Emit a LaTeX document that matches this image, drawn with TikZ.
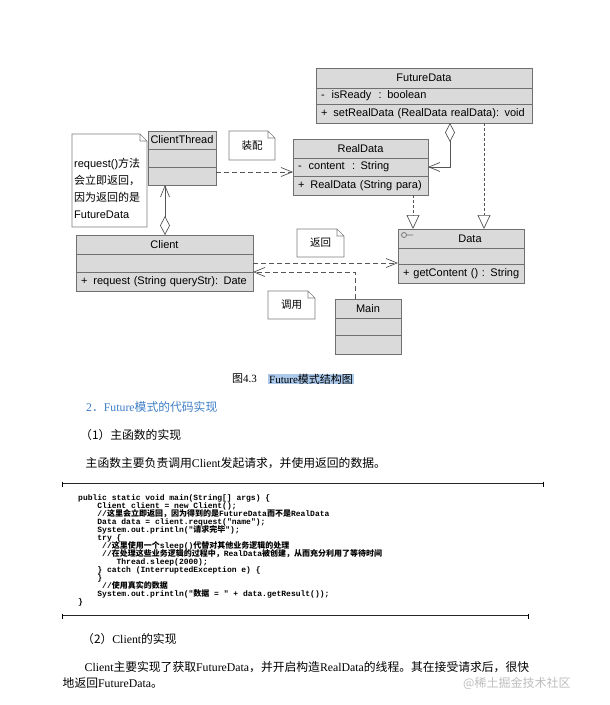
\documentclass[tikz,border=0pt]{standalone}
\usepackage{fontspec}
\setmainfont{Liberation Serif}
\setsansfont{Liberation Sans}
\setmonofont{Liberation Mono}
\newfontfamily\zhfont{Noto Sans CJK SC}
\usetikzlibrary{positioning,arrows.meta}
\definecolor{umlfill}{RGB}{218,218,218}
\definecolor{umlline}{RGB}{112,112,112}
\definecolor{wire}{RGB}{85,85,85}
\definecolor{notegray}{RGB}{125,125,125}
\definecolor{headblue}{RGB}{62,126,198}
\definecolor{hilite}{RGB}{172,202,236}
\definecolor{markgray}{RGB}{190,190,190}
\newcommand{\zh}[1]{{\zhfont #1}}
\newcommand{\umlfont}{\sffamily\fontsize{11}{13}\selectfont}
\newcommand{\bodyfont}{\fontsize{11.8}{14}\selectfont}
\newcommand{\codefont}{\ttfamily\bfseries\fontsize{8}{8}\selectfont\lineskiplimit=-20pt}

\begin{document}
\begin{tikzpicture}[x=1pt, y=-1pt,
    cls/.style={draw=umlline, fill=umlfill, line width=0.8pt, outer sep=0pt, inner xsep=2pt, inner ysep=0pt, font=\umlfont},
    row/.style={cls, inner xsep=5pt, align=left},
    notebox/.style={fill=white, outer sep=0pt, inner sep=0pt, font=\zhfont\fontsize{10.5}{13}\selectfont},
    notetext/.style={inner sep=0pt, align=left, font=\sffamily\fontsize{11}{17}\selectfont},
    depend/.style={draw=wire, line width=0.7pt, dash pattern=on 5pt off 3pt, -{Straight Barb[length=11pt,width=9pt]}},
    realize/.style={draw=wire, line width=0.7pt, dash pattern=on 3pt off 2pt, -{Triangle[open,length=14pt,width=13pt]}},
    aggr/.style={draw=wire, line width=0.7pt, {Diamond[open,length=19pt,width=10pt]}-{Straight Barb[length=11pt,width=9pt]}},
    bodytext/.style={anchor=west, inner sep=0pt, font=\bodyfont},
    codetext/.style={anchor=north west, inner sep=0pt, align=left, font=\codefont},
    codeline/.style={draw=black!85, line width=0.6pt, double, double distance=0.8pt}
]
    \fill[white] (0,0) rectangle (610,705);
    \useasboundingbox (0,0) rectangle (610,705);

    % FutureData
    \node[cls, anchor=north west, minimum width=216pt, minimum height=20pt] (fd) at (316,68) {FutureData};
    \node[row, text width=206pt, minimum height=16pt, below=0pt of fd] (fd-a) {-\hspace{7pt}isReady\ \ : boolean};
    \node[row, text width=206pt, minimum height=19pt, below=0pt of fd-a] (fd-m) {\mbox{+\hspace{6pt}setRealData (RealData realData): void}};

    % RealData
    \node[cls, anchor=north west, minimum width=135pt, minimum height=19pt] (rd) at (293,139) {RealData};
    \node[row, text width=125pt, minimum height=18pt, below=0pt of rd] (rd-a) {-\hspace{7pt}content\ \ : String};
    \node[row, text width=125pt, minimum height=19pt, below=0pt of rd-a] (rd-m) {\mbox{+\hspace{6pt}RealData (String para)}};

    % ClientThread
    \node[cls, anchor=north west, minimum width=68pt, minimum height=18pt] (ct) at (148,131) {ClientThread};
    \node[row, text width=58pt, minimum height=18pt, below=0pt of ct] (ct-a) {};
    \node[row, text width=58pt, minimum height=18pt, below=0pt of ct-a] (ct-m) {};

    % Client
    \node[cls, anchor=north west, minimum width=177pt, minimum height=19pt] (cl) at (76,235) {Client};
    \node[row, text width=167pt, minimum height=18pt, below=0pt of cl] (cl-a) {};
    \node[row, text width=167pt, minimum height=19pt, below=0pt of cl-a] (cl-m) {\mbox{+\hspace{6pt}request (String queryStr): Date}};

    % Data (interface)
    \node[cls, anchor=north west, minimum width=126pt, minimum height=19pt] (data) at (398,229) {\hspace*{18pt}Data};
    \node[row, text width=116pt, minimum height=16pt, below=0pt of data] (data-a) {};
    \node[row, text width=116pt, minimum height=19pt, below=0pt of data-a] (data-m) {\mbox{+\hspace{4pt}getContent () : String}};
    \draw[umlline, line width=0.7pt] ([xshift=6pt,yshift=-6pt]data.north west) circle[radius=2.5pt] ++(2.5,0) -- ++(6.5,0);

    % Main
    \node[cls, anchor=north west, minimum width=66pt, minimum height=19pt] (main) at (335,299) {Main};
    \node[row, text width=56pt, minimum height=17pt, below=0pt of main] (main-a) {};
    \node[row, text width=56pt, minimum height=19pt, below=0pt of main-a] (main-m) {};

    % Notes
    \node[notebox, anchor=north west, minimum width=75pt, minimum height=93pt] (nreq) at (72,134) {};
    \node[notetext, anchor=west] (nreq-t) at (74,188) {request()\zh{方法}\\\zh{会立即返回，}\\\zh{因为返回的是}\\FutureData};
    \node[notebox, anchor=north west, minimum width=46pt, minimum height=29pt] (nzp) at (229,131) {装配};
    \node[notebox, anchor=north west, minimum width=47pt, minimum height=28pt] (nfh) at (297,229) {返回};
    \node[notebox, anchor=north west, minimum width=47pt, minimum height=28pt] (ndy) at (268,291) {调用};
    \foreach \n in {nreq,nzp,nfh,ndy}
        \draw[notegray, line width=0.7pt] (\n.north west) -- ([xshift=-7pt]\n.north east) -- ([yshift=-7pt]\n.north east)
            -- (\n.south east) -- (\n.south west) -- cycle
            ([xshift=-7pt]\n.north east) |- ([yshift=-7pt]\n.north east);

    % Connections
    \coordinate (ctout) at ([yshift=4pt]ct-m.east);
    \draw[depend] (ctout) -- (ctout -| rd-a.west);
    \coordinate (fdagg) at ([xshift=26pt]fd-m.south);
    \draw[aggr] (fdagg) |- (rd-a.east);
    \coordinate (rdout) at ([xshift=52.5pt]rd-m.south);
    \draw[realize] (rdout) -- (rdout |- data.north);
    \coordinate (fdout) at ([xshift=60pt]fd-m.south);
    \draw[realize] (fdout) -- (fdout |- data.north);
    \coordinate (clagg) at ([xshift=0.5pt]cl.north);
    \draw[aggr] (clagg) -- (clagg |- ct-m.south);
    \draw[depend] (cl-a.east) -- (cl-a.east -| data-a.west);
    \coordinate (mainout) at ([xshift=-13pt]main.north);
    \draw[depend] (mainout) |- (cl-a.south east);

    % Caption and text
    \node[bodytext, font=\fontsize{11}{13}\selectfont] (cap-no) at (232,379) {\zh{图}4.3};
    \node[bodytext, font=\fontsize{11}{13}\selectfont, fill=hilite, inner xsep=1pt] (cap-title) at (268,379) {Future\zh{模式结构图}};
    \node[bodytext, text=headblue] (sec) at (86,407) {2\zh{．}Future\zh{模式的代码实现}};
    \node[bodytext] (sub1) at (80,435) {\zh{（1）主函数的实现}};
    \node[bodytext] (para1) at (85.5,463) {\zh{主函数主要负责调用}Client\zh{发起请求，并使用返回的数据。}};

    % Code
    \draw[codeline] (62,484) -- (543,484);
    \draw[line width=1pt] (62,481.5) -- (62,486.5) (543,481.5) -- (543,486.5);
    \node[codetext] (code) at (78,494) {public static void main(String[] args) \{\\
~~~~Client client = new Client();\\
~~~~//\zh{这里会立即返回，因为得到的是}FutureData\zh{而不是}RealData\\
~~~~Data data = client.request("name");\\
~~~~System.out.println("\zh{请求完毕}");\\
~~~~try \{\\
~~~~~//\zh{这里使用一个}sleep()\zh{代替对其他业务逻辑的处理}\\
~~~~~//\zh{在处理这些业务逻辑的过程中，}RealData\zh{被创建，从而充分利用了等待时间}\\
~~~~~~~~Thread.sleep(2000);\\
~~~~\} catch (InterruptedException e) \{\\
~~~~\}\\
~~~~~//\zh{使用真实的数据}\\
~~~~System.out.println("\zh{数据} = " + data.getResult());\\
\}};
    \draw[codeline] (62,616) -- (528,616);
    \draw[line width=1pt] (62,613.5) -- (62,618.5) (528,613.5) -- (528,618.5);

    \node[bodytext] (sub2) at (82,639) {\zh{（2）}Client\zh{的实现}};
    \node[bodytext] (para2) at (84.5,667) {Client\zh{主要实现了获取}FutureData\zh{，并开启构造}RealData\zh{的线程。其在接受请求后，很快}};
    \node[bodytext] (para2b) at (62.5,683) {\zh{地返回}FutureData\zh{。}};
    \node[bodytext, text=markgray, font=\zhfont\fontsize{12}{14}\selectfont] (mark) at (463,683) {@稀土掘金技术社区};
\end{tikzpicture}
\end{document}
